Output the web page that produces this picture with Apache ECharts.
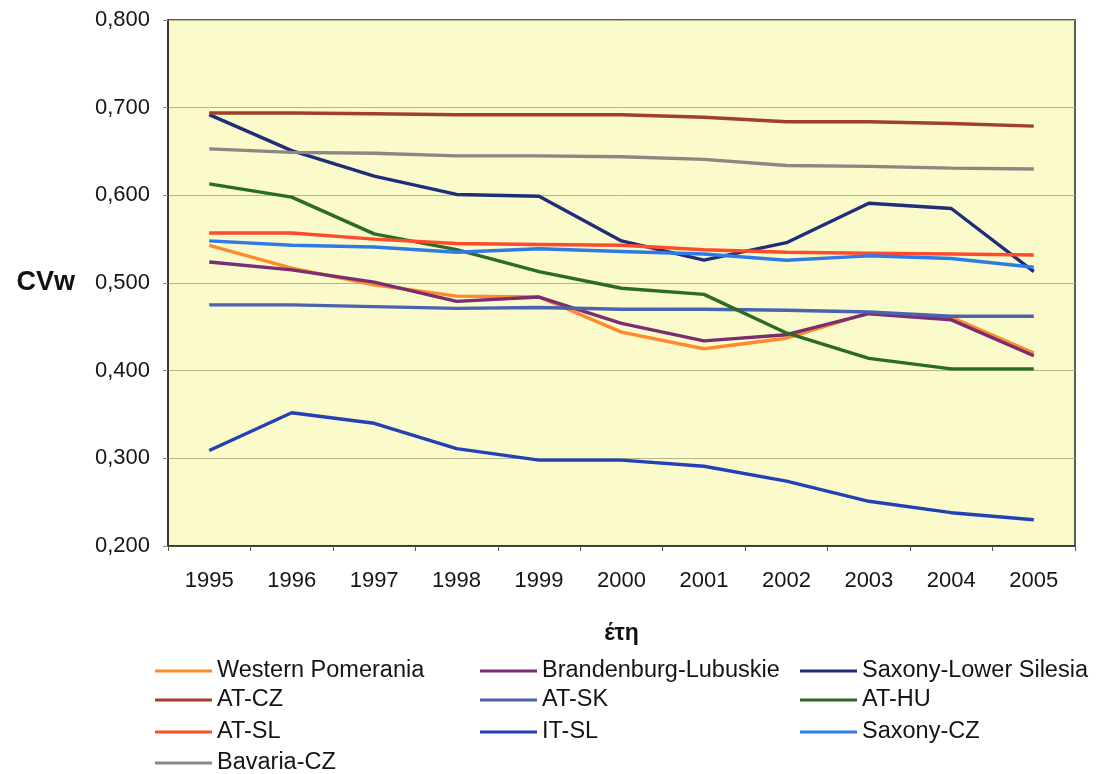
<!DOCTYPE html>
<html>
<head>
<meta charset="utf-8">
<script src="https://cdn.jsdelivr.net/npm/echarts@6/dist/echarts.min.js"></script>
<style>html,body{margin:0;padding:0;background:#fff}#c{width:1100px;height:774px}</style>
</head>
<body>
<div id="c"></div>
<script>
const years = ['1995','1996','1997','1998','1999','2000','2001','2002','2003','2004','2005'];
const yTicks = [0.2, 0.3, 0.4, 0.5, 0.6, 0.7, 0.8];
const westernPomerania   = [0.543,0.517,0.498,0.485,0.484,0.444,0.425,0.437,0.466,0.461,0.420];
const brandenburgLubuskie= [0.524,0.515,0.501,0.479,0.484,0.454,0.434,0.441,0.465,0.458,0.417];
const saxonyLowerSilesia = [0.692,0.651,0.622,0.601,0.599,0.548,0.526,0.546,0.591,0.585,0.513];
const atCZ               = [0.694,0.694,0.693,0.692,0.692,0.692,0.689,0.684,0.684,0.682,0.679];
const atSK               = [0.475,0.475,0.473,0.471,0.472,0.470,0.470,0.469,0.467,0.462,0.462];
const atHU               = [0.613,0.598,0.556,0.538,0.513,0.494,0.487,0.443,0.414,0.402,0.402];
const atSL               = [0.557,0.557,0.550,0.545,0.544,0.543,0.538,0.535,0.534,0.533,0.532];
const itSL               = [0.309,0.352,0.340,0.311,0.298,0.298,0.291,0.274,0.251,0.238,0.230];
const saxonyCZ           = [0.548,0.543,0.541,0.535,0.539,0.536,0.533,0.526,0.531,0.528,0.518];
const bavariaCZ          = [0.653,0.649,0.648,0.645,0.645,0.644,0.641,0.634,0.633,0.631,0.630];

const seriesDefs = [
  ['Western Pomerania', westernPomerania, '#FF8A2C'],
  ['Brandenburg-Lubuskie', brandenburgLubuskie, '#7A2D72'],
  ['Saxony-Lower Silesia', saxonyLowerSilesia, '#1E2E78'],
  ['AT-CZ', atCZ, '#A23F2A'],
  ['AT-SK', atSK, '#4A62B0'],
  ['AT-HU', atHU, '#2A6B26'],
  ['AT-SL', atSL, '#FF4B2B'],
  ['IT-SL', itSL, '#2340B6'],
  ['Saxony-CZ', saxonyCZ, '#2F7BE6'],
  ['Bavaria-CZ', bavariaCZ, '#8C8782']
];
const legendPos = [[155,659],[480,659],[800,659],[155,688],[480,688],[800,688],[155,720],[480,720],[800,720],[155,751]];
const FONT = 'Liberation Sans, Arial, sans-serif';

const chart = echarts.init(document.getElementById('c'), null, {renderer:'canvas'});
const option = {
  backgroundColor: '#ffffff',
  animation: false,
  grid: {left:168, right:25, top:20, bottom:228, outerBoundsMode:'none', containLabel:false, show:true, backgroundColor:'#FBFACB', borderColor:'#2a2a2a', borderWidth:1.5},
  legend: seriesDefs.map((d,i)=>({
    data:[d[0]], left:legendPos[i][0], top:legendPos[i][1], padding:0, icon:'rect', itemWidth:57, itemHeight:3, itemGap:0,
    textStyle:{fontFamily:FONT, fontSize:23.5, color:'#151515'}
  })),
  xAxis: {
    type:'category', data: years, boundaryGap:true,
    name:'έτη', nameLocation:'middle', nameGap:76,
    nameTextStyle:{fontFamily:FONT, fontSize:23, fontWeight:'bold', color:'#111'},
    axisLine:{show:true, lineStyle:{color:'#2a2a2a', width:1.5}},
    axisTick:{show:true, alignWithLabel:false, length:5, lineStyle:{color:'#555'}},
    axisLabel:{fontFamily:FONT, fontSize:22, color:'#151515', margin:24},
    splitLine:{show:false}
  },
  yAxis: {
    type:'value', min:yTicks[0], max:yTicks[yTicks.length-1], interval:0.1,
    name:'CVw', nameLocation:'middle', nameRotate:0, nameGap:93,
    nameTextStyle:{fontFamily:FONT, fontSize:27, fontWeight:'bold', color:'#111'},
    axisLine:{show:true, lineStyle:{color:'#2a2a2a', width:1.5}},
    axisTick:{show:true, length:5, lineStyle:{color:'#888'}},
    axisLabel:{fontFamily:FONT, fontSize:22, color:'#151515', margin:18,
      formatter:v=>v.toFixed(3).replace('.',',')},
    splitLine:{show:true, lineStyle:{color:'#B8B58E', width:1}}
  },
  series: seriesDefs.map(d=>({
    name:d[0], type:'line', data:d[1], symbol:'none', smooth:false,
    lineStyle:{color:d[2], width:3.4}, itemStyle:{color:d[2]}
  }))
};
chart.setOption(option);
</script>
</body>
</html>
